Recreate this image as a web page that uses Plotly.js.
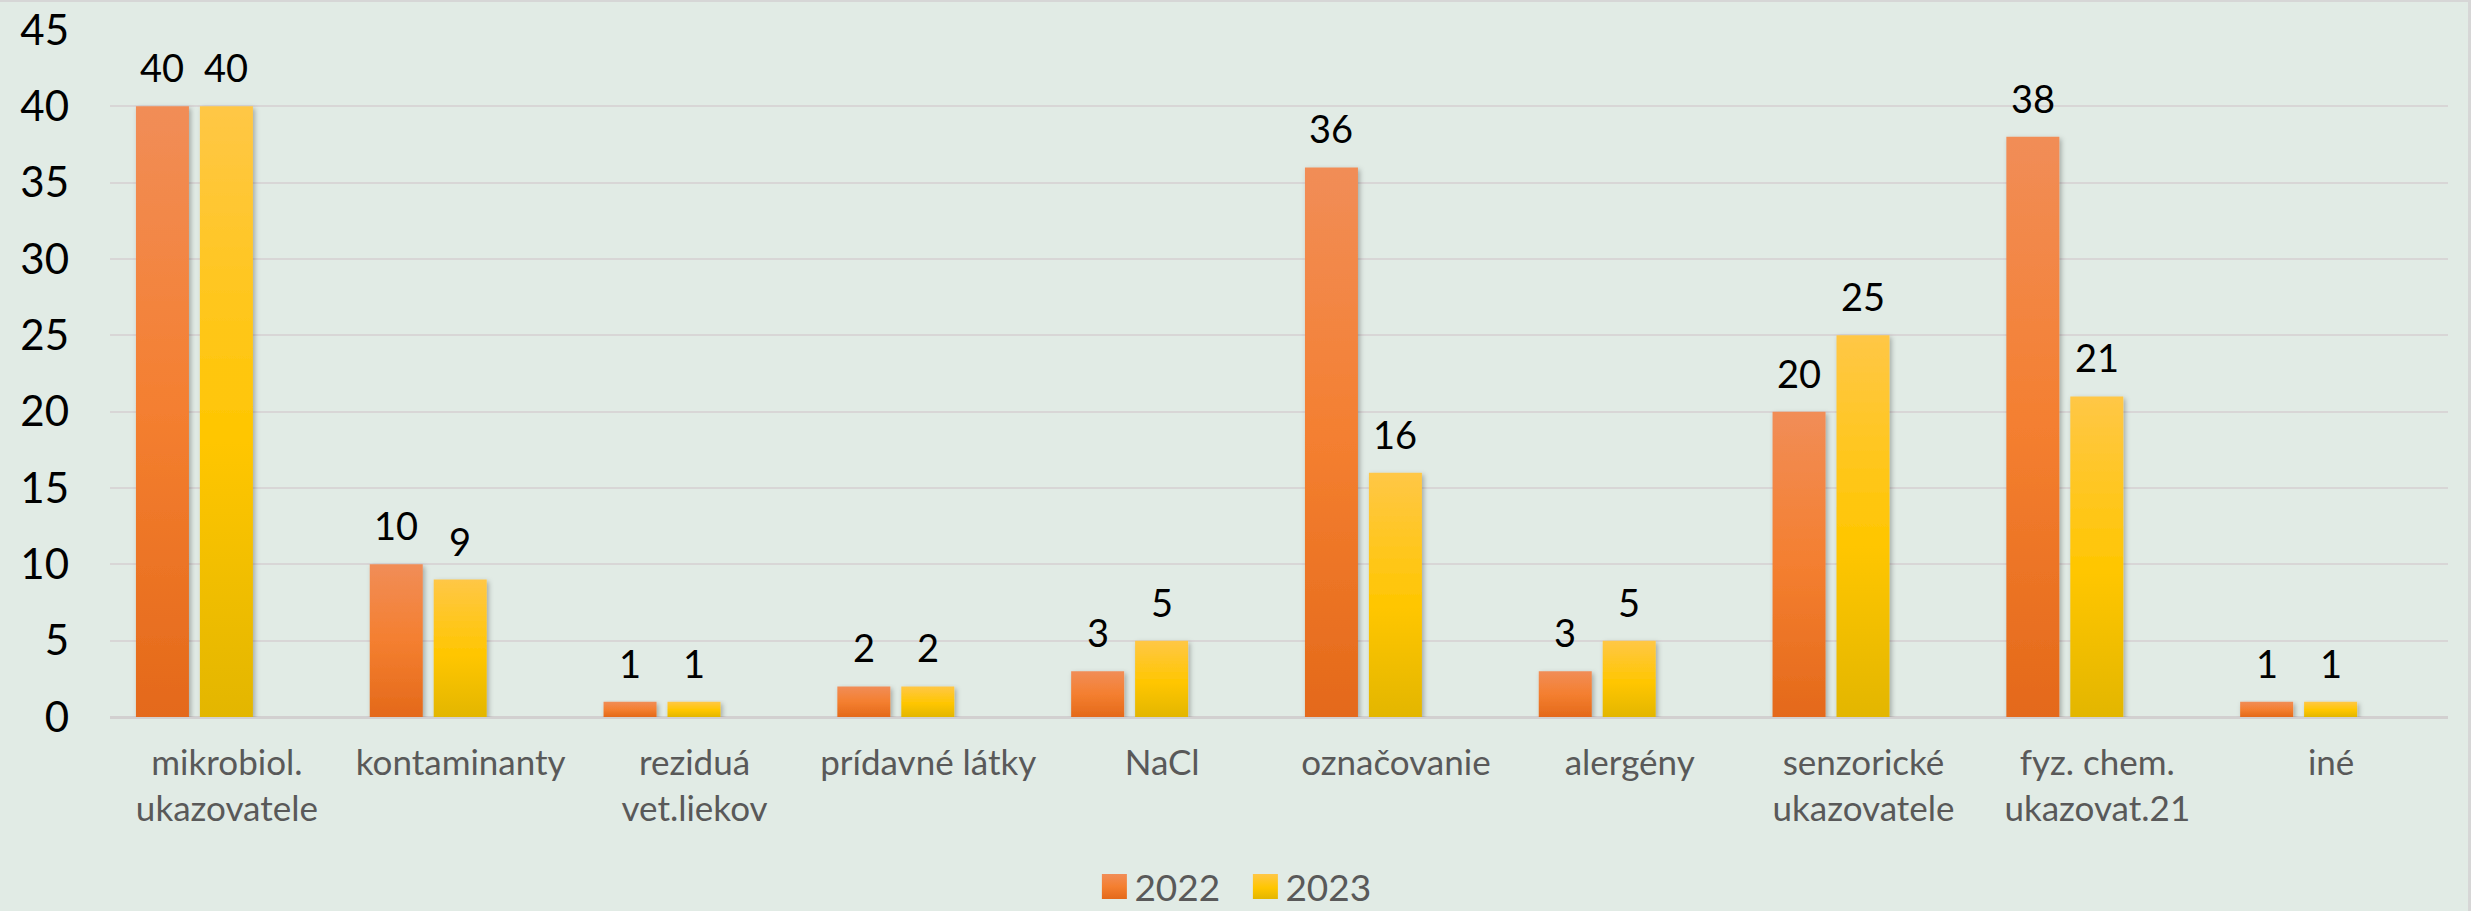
<!DOCTYPE html>
<html>
<head>
<meta charset="utf-8">
<script src="https://cdn.plot.ly/plotly-3.0.1.min.js"></script>
<style>
  html, body { margin: 0; padding: 0; background: #E1EBE5; }
  #wrap { position: relative; width: 2471px; height: 911px; overflow: hidden; }
  #chart { width: 2471px; height: 911px; }
  #frame { position: absolute; left: 0; top: 0; width: 2471px; height: 911px; box-sizing: border-box;
           border-top: 2px solid #D6D6D6; border-right: 3px solid #D6D6D6; pointer-events: none; }
</style>
</head>
<body>
<div id="wrap"><div id="chart"></div><div id="frame"></div></div>
<script>
// ---- data ----
const categories = [
  "mikrobiol.<br>ukazovatele",
  "kontaminanty",
  "reziduá<br>vet.liekov",
  "prídavné látky",
  "NaCl",
  "označovanie",
  "alergény",
  "senzorické<br>ukazovatele",
  "fyz. chem.<br>ukazovat.21",
  "iné"
];
const values2022 = [40, 10, 1, 2, 3, 36, 3, 20, 38, 1];
const values2023 = [40, 9, 1, 2, 5, 16, 5, 25, 21, 1];
const seriesNames = ["2022", "2023"];
const yTicks = [0, 5, 10, 15, 20, 25, 30, 35, 40, 45];

// ---- style ----
const FONT = "Lato, 'Open Sans', sans-serif";
const BAR_W = 0.2267;
const OFFSETS = [-0.389, -0.1155];
const BASE_COLORS = ["#F47F30", "#FFC600"];

const traces = [values2022, values2023].map((vals, k) => ({
  type: "bar",
  name: seriesNames[k],
  x: categories,
  y: vals,
  width: BAR_W,
  offset: OFFSETS[k],
  marker: { color: BASE_COLORS[k], line: { width: 0 } },
  hoverinfo: "x+y+name"
}));

const annotations = [];
[values2022, values2023].forEach((vals, k) => {
  vals.forEach((v, i) => {
    annotations.push({
      x: i + OFFSETS[k] + BAR_W / 2,
      y: v,
      xref: "x", yref: "y",
      text: String(v),
      showarrow: false,
      xanchor: "center",
      yanchor: "bottom",
      yshift: 14,
      font: { family: FONT, size: 38, color: "#000000" }
    });
  });
});

const layout = {
  width: 2471,
  height: 911,
  paper_bgcolor: "#E1EBE5",
  plot_bgcolor: "#E1EBE5",
  margin: { l: 110, r: 23, t: 30, b: 194 },
  barmode: "overlay",
  showlegend: true,
  legend: {
    orientation: "h",
    xref: "container", yref: "container",
    x: 0.504, xanchor: "center",
    y: 0, yanchor: "bottom",
    font: { family: FONT, size: 37, color: "#595959" },
    bgcolor: "rgba(0,0,0,0)",
    traceorder: "normal",
    entrywidth: 106,
    entrywidthmode: "pixels"
  },
  xaxis: {
    type: "category",
    range: [-0.5, categories.length - 0.5],
    showgrid: false,
    showline: false,
    zeroline: false,
    ticks: "",
    ticklabelstandoff: 22,
    tickfont: { family: FONT, size: 35, color: "#595959" },
    fixedrange: true
  },
  yaxis: {
    range: [0, 45],
    tickvals: yTicks,
    ticktext: yTicks.map(String),
    showgrid: true,
    gridcolor: "#D8D6D6",
    gridwidth: 2,
    zeroline: true,
    zerolinecolor: "#D2D0D0",
    zerolinewidth: 3,
    showline: false,
    ticks: "",
    ticklabelstandoff: 40,
    tickfont: { family: FONT, size: 42, color: "#000000" },
    fixedrange: true
  },
  annotations: annotations
};

Plotly.newPlot("chart", traces, layout, { displayModeBar: false, staticPlot: true }).then(gd => {
  const svg = gd.querySelector(".main-svg");
  let defs = svg.querySelector("defs");
  const NS = "http://www.w3.org/2000/svg";
  const gradStops = [
    [["0%", "#F18D57"], ["50%", "#F47F30"], ["100%", "#E4691A"]],
    [["0%", "#FFC746"], ["55%", "#FFC600"], ["100%", "#E3B600"]]
  ];
  gradStops.forEach((stops, k) => {
    const g = document.createElementNS(NS, "linearGradient");
    g.setAttribute("id", "barGrad" + k);
    g.setAttribute("x1", "0"); g.setAttribute("y1", "0");
    g.setAttribute("x2", "0"); g.setAttribute("y2", "1");
    stops.forEach(([o, c]) => {
      const s = document.createElementNS(NS, "stop");
      s.setAttribute("offset", o);
      s.setAttribute("stop-color", c);
      g.appendChild(s);
    });
    defs.appendChild(g);
  });
  const f = document.createElementNS(NS, "filter");
  f.setAttribute("id", "barShadow");
  f.setAttribute("x", "-20%"); f.setAttribute("y", "-5%");
  f.setAttribute("width", "150%"); f.setAttribute("height", "120%");
  const ds = document.createElementNS(NS, "feDropShadow");
  ds.setAttribute("dx", "2"); ds.setAttribute("dy", "2");
  ds.setAttribute("stdDeviation", "2.5");
  ds.setAttribute("flood-color", "#000000");
  ds.setAttribute("flood-opacity", "0.28");
  f.appendChild(ds);
  defs.appendChild(f);

  gd.querySelectorAll(".barlayer .trace").forEach((tr, k) => {
    tr.querySelectorAll("path").forEach(p => {
      p.style.fill = "url(#barGrad" + k + ")";
      p.setAttribute("filter", "url(#barShadow)");
    });
  });
  gd.querySelectorAll(".legend .traces").forEach((tr, k) => {
    tr.querySelectorAll(".legendpoints path").forEach(p => {
      p.setAttribute("d", "M12.5,12.5H-12.5V-12.5H12.5Z");
      p.style.fill = "url(#barGrad" + k + ")";
      p.style.stroke = "none";
    });
  });
  // nudge the legend down towards the bottom edge as in the reference
  const lg = gd.querySelector(".legend");
  if (lg) {
    const t = lg.getAttribute("transform") || "";
    const m = t.match(/translate\(\s*([-\d.]+)[ ,]+([-\d.]+)\s*\)/);
    if (m) lg.setAttribute("transform", "translate(" + m[1] + "," + (parseFloat(m[2]) + 7) + ")");
  }
});
</script>
</body>
</html>
